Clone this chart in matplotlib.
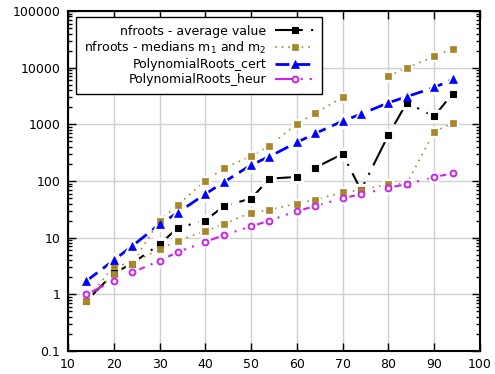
import numpy as np
import matplotlib
matplotlib.use('Agg')
from matplotlib import pyplot as plt
from matplotlib.ticker import FixedLocator, FuncFormatter, NullFormatter

plt.rcParams['lines.scale_dashes'] = False
plt.rcParams['font.family'] = 'DejaVu Sans'
plt.rcParams['font.size'] = 9

# degrees of the test polynomials
degree = [14, 20, 24, 30, 34, 40, 44, 50, 54, 60, 64, 70, 74, 80, 84, 90, 94]

# timings
nfroots_avg = [0.76, 2.35, 3.5, 7.6, 15, 20, 36, 49, 110, 118, 172, 300, 69, 650, 2400, 1380, 3500]
nfroots_m2 = [0.76, 3.2, 3.5, 20, 38, 101, 167, 276, 414, 1025, 1560, 3030, np.nan, 7240, 9850, 15800, 21600]
nfroots_m1 = [0.76, 2.3, 3.5, 6.3, 8.8, 13.1, 17.4, 27.6, 31, 40, 47, 63, 69, 88, 90, 740, 1050]
roots_cert = [1.72, 4.0, 7.1, 17.2, 27.6, 59, 95, 192, 270, 480, 690, 1140, 1520, 2400, 3080, 4470, 6200]
roots_heur = [1.0, 1.74, 2.44, 3.9, 5.6, 8.4, 11.1, 15.8, 20, 29.5, 36, 50, 58, 76, 88, 117, 137]

gold = '#a8862a'
violet = '#d020f0'

fig = plt.figure(figsize=(4.95, 3.74), dpi=100)
ax = fig.add_axes([68 / 495, 23 / 374, 412 / 495, 340 / 374])


def draw(y, color, marker, ms, mew, lw, dashes, label=None, mfc=None):
    # line (with marker for the legend), white blank around points, then points on top
    ax.plot(degree, y, color=color, lw=lw, dashes=dashes, marker=marker, ms=ms,
            mfc=mfc or color, mec=color, mew=mew, label=label, zorder=2)
    ax.plot(degree, y, ls='none', marker=marker, ms=ms + 3.5, mfc='white', mec='white', zorder=2.5)
    ax.plot(degree, y, ls='none', marker=marker, ms=ms, mfc=mfc or color, mec=color,
            mew=mew, zorder=3)


draw(nfroots_avg, 'black', 's', 4.8, 0.8, 1.5, (20, 6, 1.5, 6), 'nfroots - average value')
draw(nfroots_m2, gold, 's', 3.8, 0.5, 1.2, (1.2, 3.6), 'nfroots - medians m$_1$ and m$_2$')
draw(nfroots_m1, gold, 's', 3.8, 0.5, 1.2, (1.2, 3.6))
draw(roots_cert, 'blue', '^', 6.0, 0.5, 2.0, (10, 5), 'PolynomialRoots_cert')
draw(roots_heur, violet, 'o', 4.2, 1.4, 1.5, (14, 4.5, 1.5, 5, 1.5, 6), 'PolynomialRoots_heur',
     mfc='white')

ax.set_yscale('log')
ax.set_xlim(10, 100)
ax.set_ylim(0.1, 100000)
ax.set_xticks(range(10, 101, 10))

# decade ticks and the 2..9 minor ticks, only inside the shown range
decades = 10.0 ** np.arange(-1, 6)
minors = [d * s for d in decades[:-1] for s in range(2, 10)]
ax.yaxis.set_major_locator(FixedLocator(decades))
ax.yaxis.set_minor_locator(FixedLocator(minors))
ax.yaxis.set_major_formatter(FuncFormatter(lambda v, p: '%g' % v))
ax.yaxis.set_minor_formatter(NullFormatter())

ax.grid(True, which='major', color='#d0d0d0', lw=1)
ax.set_axisbelow(True)
ax.tick_params(which='both', direction='in', top=True, right=True, width=1)
ax.tick_params(which='major', length=6)
ax.tick_params(axis='x', which='major', pad=5)
ax.tick_params(axis='y', which='major', pad=5.5)
ax.tick_params(which='minor', length=3)
for s in ax.spines.values():
    s.set_linewidth(1.5)

leg = ax.legend(loc='upper left', bbox_to_anchor=(8 / 412, 334 / 340), borderaxespad=0,
                markerfirst=False, fancybox=False, edgecolor='black', framealpha=1,
                handlelength=3.2, handletextpad=0.7, labelspacing=0.18, borderpad=0.6,
                numpoints=1, fontsize=9)
leg.get_frame().set_linewidth(1.0)

fig.savefig('out.png', dpi=100)
